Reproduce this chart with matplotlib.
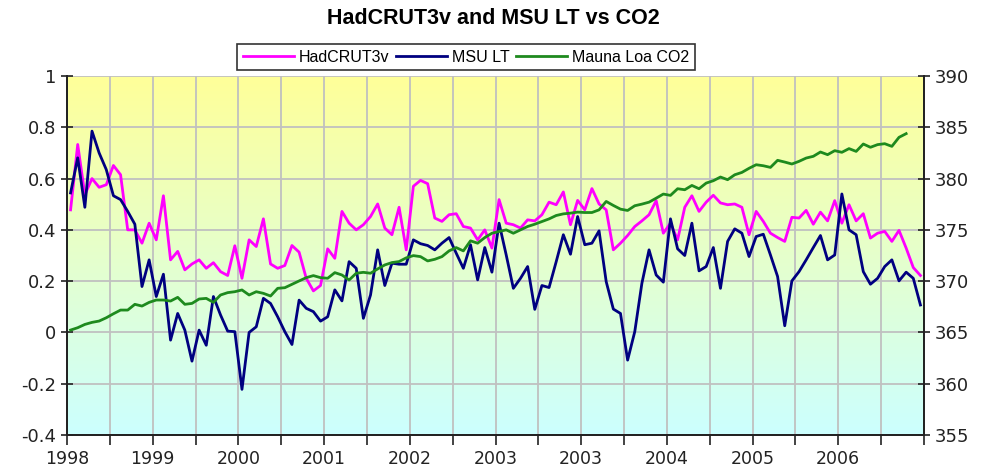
import matplotlib
matplotlib.use('Agg')
import matplotlib.pyplot as plt
import numpy as np

plt.rcParams['font.family'] = ['Liberation Sans', 'DejaVu Sans']

# monthly values, Jan 1998 onwards
had = [0.478, 0.733, 0.537, 0.600, 0.566, 0.576, 0.651, 0.615, 0.400, 0.400,
       0.348, 0.426, 0.361, 0.533, 0.283, 0.316, 0.244, 0.267, 0.283, 0.250,
       0.272, 0.237, 0.222, 0.338, 0.211, 0.361, 0.335, 0.443, 0.267, 0.250,
       0.261, 0.339, 0.313, 0.211, 0.162, 0.183, 0.326, 0.289, 0.472, 0.426,
       0.400, 0.420, 0.452, 0.501, 0.407, 0.381, 0.488, 0.322, 0.570, 0.593,
       0.580, 0.446, 0.433, 0.459, 0.463, 0.413, 0.407, 0.361, 0.400, 0.329,
       0.518, 0.426, 0.420, 0.407, 0.439, 0.435, 0.459, 0.508, 0.498, 0.548,
       0.420, 0.515, 0.478, 0.561, 0.501, 0.478, 0.322, 0.348, 0.378, 0.413,
       0.435, 0.459, 0.514, 0.387, 0.426, 0.361, 0.488, 0.533, 0.472, 0.508,
       0.535, 0.505, 0.498, 0.501, 0.488, 0.381, 0.472, 0.433, 0.387, 0.370,
       0.355, 0.449, 0.446, 0.476, 0.422, 0.469, 0.435, 0.514, 0.426, 0.498,
       0.435, 0.463, 0.368, 0.387, 0.394, 0.355, 0.398, 0.329, 0.253, 0.222]

msu = [0.544, 0.681, 0.488, 0.785, 0.700, 0.635, 0.533, 0.518, 0.472, 0.422,
       0.179, 0.283, 0.140, 0.227, -0.030, 0.074, 0.009, -0.112, 0.009, -0.050,
       0.140, 0.068, 0.005, 0.003, -0.222, 0.000, 0.022, 0.133, 0.113, 0.061,
       0.003, -0.047, 0.126, 0.094, 0.081, 0.044, 0.061, 0.166, 0.123, 0.276,
       0.250, 0.055, 0.146, 0.322, 0.183, 0.270, 0.266, 0.266, 0.361, 0.346,
       0.339, 0.322, 0.348, 0.370, 0.309, 0.250, 0.342, 0.205, 0.331, 0.235,
       0.426, 0.302, 0.172, 0.211, 0.257, 0.090, 0.183, 0.175, 0.276, 0.381,
       0.305, 0.452, 0.342, 0.348, 0.396, 0.198, 0.091, 0.074, -0.108, 0.003,
       0.192, 0.322, 0.224, 0.196, 0.443, 0.326, 0.300, 0.426, 0.240, 0.257,
       0.331, 0.172, 0.355, 0.404, 0.387, 0.296, 0.374, 0.383, 0.302, 0.218,
       0.026, 0.201, 0.237, 0.283, 0.331, 0.378, 0.283, 0.302, 0.540, 0.400,
       0.381, 0.237, 0.188, 0.211, 0.257, 0.283, 0.201, 0.235, 0.211, 0.107]

co2 = [365.23, 365.46, 365.78, 365.98, 366.11, 366.43, 366.82, 367.18, 367.18, 367.74,
       367.57, 367.93, 368.16, 368.16, 368.06, 368.42, 367.74, 367.83, 368.26, 368.32,
       367.93, 368.65, 368.88, 368.97, 369.14, 368.65, 368.97, 368.81, 368.55, 369.30,
       369.36, 369.69, 370.02, 370.34, 370.54, 370.34, 370.28, 370.83, 370.60, 370.11,
       370.77, 370.86, 370.77, 371.19, 371.58, 371.81, 371.91, 372.27, 372.49, 372.39,
       371.97, 372.13, 372.39, 372.95, 373.27, 372.95, 373.93, 373.70, 374.25, 374.67,
       374.84, 375.00, 374.67, 375.00, 375.33, 375.55, 375.81, 376.07, 376.40, 376.56,
       376.63, 376.73, 376.69, 376.69, 376.95, 377.77, 377.38, 377.02, 376.89, 377.35,
       377.51, 377.70, 378.09, 378.49, 378.36, 379.01, 378.91, 379.33, 379.01, 379.56,
       379.79, 380.15, 379.89, 380.37, 380.60, 381.00, 381.35, 381.25, 381.09, 381.78,
       381.61, 381.42, 381.68, 382.00, 382.17, 382.59, 382.33, 382.72, 382.56, 382.92,
       382.65, 383.37, 383.05, 383.31, 383.40, 383.14, 384.02, 384.38]

year_labels = ['1998', '1999', '2000', '2001', '2002', '2003', '2003', '2004', '2005', '2006']
left_ticks = [-0.4, -0.2, 0, 0.2, 0.4, 0.6, 0.8, 1]
left_labels = ['-0.4', '-0.2', '0', '0.2', '0.4', '0.6', '0.8', '1']
right_ticks = [355, 360, 365, 370, 375, 380, 385, 390]

fig = plt.figure(figsize=(9.86, 4.7), dpi=100)
ax = fig.add_axes([67/986, 35/470, 857/986, 359/470])

# yellow -> cyan background
top = np.array([1.0, 1.0, 0.60])
bot = np.array([0.80, 1.0, 1.0])
f = np.linspace(0, 1, 256)[:, None]
grad = (top * (1 - f) + bot * f)[:, None, :]
ax.imshow(grad, extent=[0, 1, 0, 1], transform=ax.transAxes, aspect='auto', zorder=0)

x_had = np.arange(len(had))
x_co2 = np.arange(len(co2))
l1, = ax.plot(x_had, had, color='#FF00FF', lw=2.0, zorder=3, label='HadCRUT3v')
l2, = ax.plot(x_had, msu, color='#000080', lw=2.0, zorder=3, label='MSU LT')

ax.set_xlim(-0.5, len(had) - 0.5)
ax.set_ylim(-0.4, 1)
xt = np.arange(-0.5, len(had), 6)
ax.set_xticks(xt)
xl = [''] * len(xt)
for k, lab in enumerate(year_labels):
    xl[2 * k] = lab
ax.set_xticklabels(xl)
ax.set_yticks(left_ticks)
ax.set_yticklabels(left_labels)
ax.grid(True, color='#c0c0c0', lw=1.3, zorder=1)
ax.set_axisbelow(True)

ax2 = ax.twinx()
l3, = ax2.plot(x_co2, co2, color='#1E8A1E', lw=2.0, label='Mauna Loa CO2')
ax2.set_ylim(355, 390)
ax2.set_yticks(right_ticks)

for a in (ax, ax2):
    a.spines['top'].set_visible(False)
    for s in ('left', 'right', 'bottom'):
        a.spines[s].set_color('#222222')
        a.spines[s].set_linewidth(1.3)
ax.tick_params(axis='y', direction='inout', length=8, width=1.2, pad=4, colors='#222222')
ax2.tick_params(axis='y', direction='inout', length=8, width=1.2, pad=4, colors='#222222')
ax.tick_params(axis='x', direction='out', length=7, width=1.2, pad=3.5, colors='#222222')
for lab in ax.get_yticklabels() + ax2.get_yticklabels():
    lab.set_fontfamily('DejaVu Sans')
    lab.set_fontsize(13)
for lab in ax.get_xticklabels():
    lab.set_fontfamily('DejaVu Sans')
    lab.set_fontsize(12.5)

fig.text(0.5, 1 - 18/470, 'HadCRUT3v and MSU LT vs CO2', ha='center', va='center',
         fontsize=15.5, fontweight='bold')
leg = fig.legend(handles=[l1, l2, l3], loc='center', bbox_to_anchor=(466/986, 1 - 57/470),
                 ncol=3, fontsize=11.5, frameon=True, fancybox=False, edgecolor='black',
                 handlelength=3.2, handletextpad=0.3, columnspacing=0.4, borderpad=0.35)
leg.get_frame().set_linewidth(1.2)

fig.savefig('out.png', dpi=100)
